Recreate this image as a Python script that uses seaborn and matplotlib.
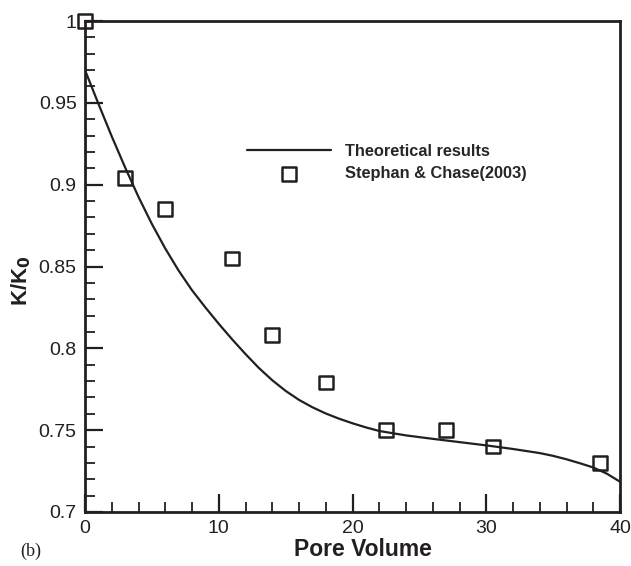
import numpy as np
import pandas as pd
import matplotlib
matplotlib.use('Agg')
import matplotlib.pyplot as plt
import seaborn as sns
from matplotlib.ticker import MultipleLocator

## data
# theoretical curve
pv_theory = [0, 1, 2, 3, 4, 5, 6, 7, 8, 9, 10, 11, 12, 13, 14, 15, 16, 17, 18, 19, 20,
             21, 22, 24, 26, 28, 30, 32, 34, 35, 36, 37, 38, 39, 40]
k_theory = [0.970, 0.9495, 0.9295, 0.9105, 0.8925, 0.876, 0.861, 0.8475, 0.8355, 0.825,
            0.815, 0.8055, 0.7965, 0.788, 0.7805, 0.774, 0.7685, 0.764, 0.7602, 0.757,
            0.7542, 0.7517, 0.7495, 0.7468, 0.7447, 0.7427, 0.7407, 0.7385, 0.736, 0.7343,
            0.7322, 0.7298, 0.7272, 0.7235, 0.7185]

# Stephan & Chase (2003)
pv_exp = [0, 3, 6, 11, 14, 18, 22.5, 27, 30.5, 38.5]
k_exp = [1.0, 0.904, 0.885, 0.855, 0.808, 0.779, 0.75, 0.75, 0.74, 0.73]

df_theory = pd.DataFrame({'pv': pv_theory, 'k': k_theory})
df_exp = pd.DataFrame({'pv': pv_exp, 'k': k_exp})

sns.set_style('ticks')
plt.rcParams['font.family'] = ['Liberation Sans', 'DejaVu Sans']

fig = plt.figure(figsize=(6.31, 5.66), dpi=100)
ax = fig.add_axes([85 / 631, 54 / 566, 535 / 631, 491 / 566])

sns.lineplot(data=df_theory, x='pv', y='k', color='#231f20', linewidth=1.6,
             label='Theoretical results', ax=ax)
sns.scatterplot(data=df_exp, x='pv', y='k', marker='s', s=95, facecolor='none',
                edgecolor='#231f20', linewidth=1.8, label='Stephan & Chase(2003)',
                clip_on=False, zorder=5, ax=ax)

ax.set_xlim(0, 40)
ax.set_ylim(0.7, 1.0)
ax.xaxis.set_major_locator(MultipleLocator(10))
ax.xaxis.set_minor_locator(MultipleLocator(2))
ax.yaxis.set_minor_locator(MultipleLocator(0.01))
ax.set_yticks([0.7, 0.75, 0.8, 0.85, 0.9, 0.95, 1.0])
ax.set_yticklabels(['0.7', '0.75', '0.8', '0.85', '0.9', '0.95', '1'])

ax.tick_params(which='major', direction='in', length=13, width=1.6, labelsize=14,
               pad=6, colors='#231f20')
ax.tick_params(which='minor', direction='in', length=7, width=1.3, colors='#231f20')
for sp in ax.spines.values():
    sp.set_linewidth(2)
    sp.set_color('#231f20')

ax.set_xlabel('Pore Volume', fontsize=16.5, fontweight='bold', color='#231f20')
ax.set_ylabel(r'K/K$_\mathbf{0}$', fontsize=16, fontweight='bold', color='#231f20')
ax.xaxis.set_label_coords(0.52, -0.053)
ax.yaxis.set_label_coords(-0.098, 0.47)

leg = ax.legend(loc='upper left', bbox_to_anchor=((247 - 85) / 535, (512 - 144) / 491),
                frameon=False, handlelength=5.15, handletextpad=0.85,
                borderpad=0, borderaxespad=0, labelspacing=0.45,
                prop={'weight': 'bold', 'size': 11.8})

fig.text(20 / 631, 1 - 551 / 566, '(b)', fontsize=13, family='Liberation Serif',
         va='center', ha='left', color='#231f20')

fig.savefig('out.png', dpi=100)
